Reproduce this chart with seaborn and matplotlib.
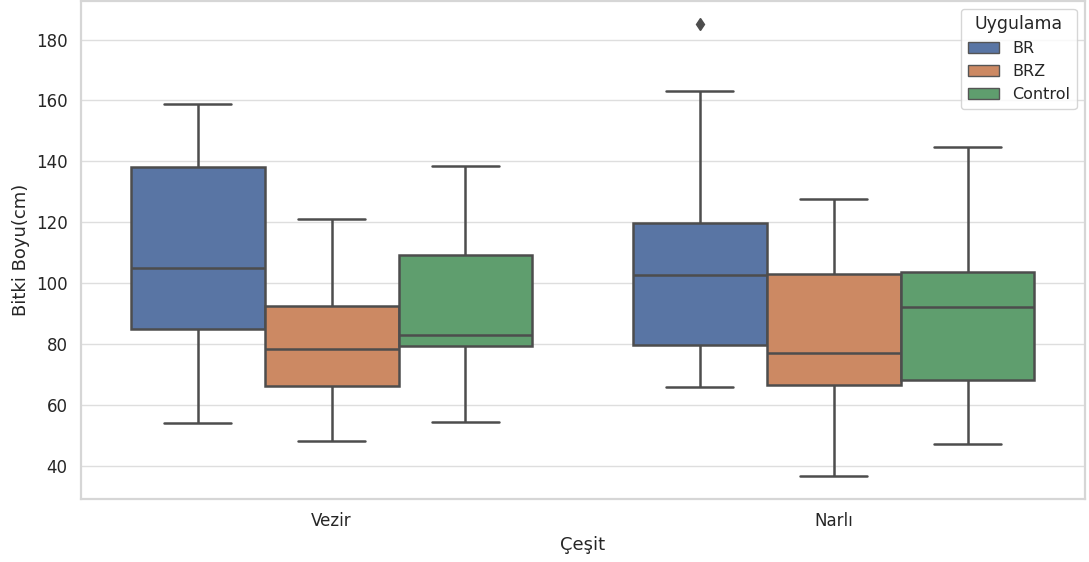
import pandas as pd
import seaborn as sns
import matplotlib
matplotlib.use("Agg")
import matplotlib.pyplot as plt

# plant height measurements per variety (Çeşit) and treatment (Uygulama)
cesit = ["Vezir", "Narlı"]
uygulama = ["BR", "BRZ", "Control"]

vezir_br = [54.2, 84.9, 105.1, 138.0, 158.9]
vezir_brz = [48.2, 66.3, 78.3, 92.4, 121.0]
vezir_control = [54.5, 79.5, 83.0, 109.4, 138.5]
narli_br = [66.0, 72.0, 79.8, 92.0, 102.6, 110.0, 119.7, 163.0, 185.2]
narli_brz = [36.5, 66.6, 77.1, 103.0, 127.6]
narli_control = [47.0, 68.3, 92.1, 103.6, 144.8]

groups = {
    ("Vezir", "BR"): vezir_br,
    ("Vezir", "BRZ"): vezir_brz,
    ("Vezir", "Control"): vezir_control,
    ("Narlı", "BR"): narli_br,
    ("Narlı", "BRZ"): narli_brz,
    ("Narlı", "Control"): narli_control,
}

rows = []
for (c, u), vals in groups.items():
    for v in vals:
        rows.append({"Çeşit": c, "Uygulama": u, "Bitki Boyu(cm)": v})
df = pd.DataFrame(rows)

sns.set_theme(style="whitegrid", rc={"grid.color": "#dedede",
                                     "axes.edgecolor": "#d6d6d6",
                                     "axes.linewidth": 1.6,
                                     "text.color": "#262626",
                                     "xtick.labelsize": 12,
                                     "ytick.labelsize": 12,
                                     "axes.labelsize": 13})

fig, ax = plt.subplots(figsize=(10.89, 5.62), dpi=100)
sns.boxplot(data=df, x="Çeşit", y="Bitki Boyu(cm)", hue="Uygulama",
            order=cesit, hue_order=uygulama, palette="deep",
            linecolor="#4d4d4d", linewidth=1.8, gap=0,
            flierprops={"marker": "d", "markerfacecolor": "#4d4d4d",
                        "markeredgecolor": "#4d4d4d", "markersize": 6},
            ax=ax)
leg = ax.legend(title="Uygulama", loc="upper right", fontsize=11.5,
                title_fontsize=12.5)
for h in leg.legend_handles:
    h.set_linewidth(1.0)
    h.set_edgecolor("#555555")
fig.subplots_adjust(left=0.074, right=0.996, top=0.998, bottom=0.112)
fig.savefig("out.png", dpi=100)
